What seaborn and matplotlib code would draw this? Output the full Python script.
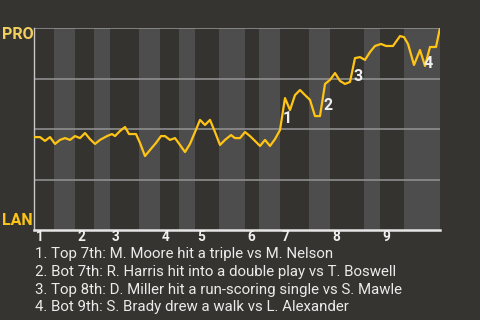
import matplotlib
matplotlib.use("Agg")
import matplotlib.pyplot as plt
import seaborn as sns
import pandas as pd

# ---- data ----
progress = [0, 6, 11, 16, 21, 26, 31, 36, 41, 46, 51, 56, 61, 66, 73, 78, 81, 86, 91, 95,
            102, 106, 111, 116, 122, 127, 131, 136, 141, 146, 151, 156, 161, 166, 171, 176,
            181, 186, 191, 197, 201, 206, 211, 216, 221, 226, 231, 236, 241, 246, 251, 256,
            261, 266, 271, 276, 281, 286, 291, 296, 301, 306, 311, 316, 321, 326, 331, 336,
            341, 347, 352, 359, 366, 370, 374, 380, 386, 391, 396, 402, 406]
pro_win_pct = [46.0, 46.0, 44.1, 46.0, 42.6, 44.6, 45.5, 44.6, 46.5, 45.5, 48.0, 45.0, 42.6,
               44.6, 46.5, 47.5, 46.5, 49.0, 51.0, 47.5, 47.5, 43.1, 36.6, 39.6, 43.1, 46.5,
               46.5, 44.6, 45.5, 42.1, 38.6, 42.6, 48.5, 54.5, 52.0, 54.5, 48.5, 42.1, 44.6,
               47.0, 45.5, 45.5, 48.5, 46.5, 44.1, 41.6, 44.6, 41.6, 45.0, 49.5, 65.3, 59.4,
               66.8, 69.3, 66.8, 64.4, 56.4, 56.4, 72.3, 74.3, 77.7, 73.8, 72.3, 73.3, 85.1,
               85.6, 84.2, 88.1, 91.1, 92.1, 91.1, 91.1, 96.0, 95.5, 92.1, 81.7, 89.1, 81.2,
               90.6, 90.6, 100.0]
half_inning_starts = [0, 20, 41, 60, 76, 105, 126, 145, 161, 185, 211, 225, 246, 275, 296,
                      330, 346, 370, 406]
inning_labels = ["1", "2", "3", "4", "5", "6", "7", "8", "9"]
event_x = [253, 294, 324, 394]
event_y = [55.0, 61.4, 76.2, 82.2]
event_labels = ["1", "2", "3", "4"]
event_texts = [
    "1. Top 7th: M. Moore hit a triple vs M. Nelson",
    "2. Bot 7th: R. Harris hit into a double play vs T. Boswell",
    "3. Top 8th: D. Miller hit a run-scoring single vs S. Mawle",
    "4. Bot 9th: S. Brady drew a walk vs L. Alexander",
]
top_team = "PRO"
bottom_team = "LAN"

df = pd.DataFrame({"progress": progress, "wp": pro_win_pct})

sns.set_style("dark")
plt.rcParams["font.family"] = ["Roboto", "DejaVu Sans"]

BG = "#363430"
fig = plt.figure(figsize=(4.8, 3.2), dpi=100, facecolor=BG)
ax = fig.add_axes([34 / 480, 1 - 230 / 320, 406 / 480, 202 / 320])
ax.set_facecolor(BG)

# alternating half-inning bands
for i in range(len(half_inning_starts) - 1):
    col = "#353330" if i % 2 == 0 else "#4d4d4d"
    ax.axvspan(half_inning_starts[i], half_inning_starts[i + 1], color=col, lw=0, zorder=0)

for yv in [25, 50, 75, 100]:
    ax.axhline(yv, color="#8e8e8e", lw=1.2, zorder=1)

sns.lineplot(data=df, x="progress", y="wp", ax=ax, color="#ffc414", lw=1.6, zorder=3)

ax.set_xlim(0, 406)
ax.set_ylim(0, 100)
ax.set_xticks([])
ax.set_yticks([])
ax.set_xlabel("")
ax.set_ylabel("")
ax.grid(False)
for s in ["top", "right"]:
    ax.spines[s].set_visible(False)
ax.spines["left"].set_color("#c8c8c8")
ax.spines["left"].set_linewidth(1.0)
ax.spines["bottom"].set_color("#e6e6e6")
ax.spines["bottom"].set_linewidth(1.8)

# inning numbers
for k, lab in enumerate(inning_labels):
    xs = half_inning_starts[2 * k]
    ax.text(xs + 2, -5.6, lab, color="#f0f0f0", fontsize=9.8, fontweight="bold",
            ha="left", va="baseline", transform=ax.transData, clip_on=False)

# event markers
for xv, yv, lab in zip(event_x, event_y, event_labels):
    ax.text(xv, yv, lab, color="#f0f0f0", fontsize=11.5, fontweight="bold",
            ha="center", va="center", zorder=4)

fig.text(2 / 480, 1 - 39 / 320, top_team, color="#f3cf5e", fontsize=11.5, fontweight="bold",
         ha="left", va="baseline")
fig.text(2 / 480, 1 - 225 / 320, bottom_team, color="#fbc418", fontsize=11.5, fontweight="bold",
         ha="left", va="baseline")

for i, t in enumerate(event_texts):
    fig.text(35 / 480, 1 - (258 + 17.8 * i) / 320, t, color="#ebebeb", fontsize=10.8,
             ha="left", va="baseline")

fig.savefig("out.png", dpi=100, facecolor=BG)
